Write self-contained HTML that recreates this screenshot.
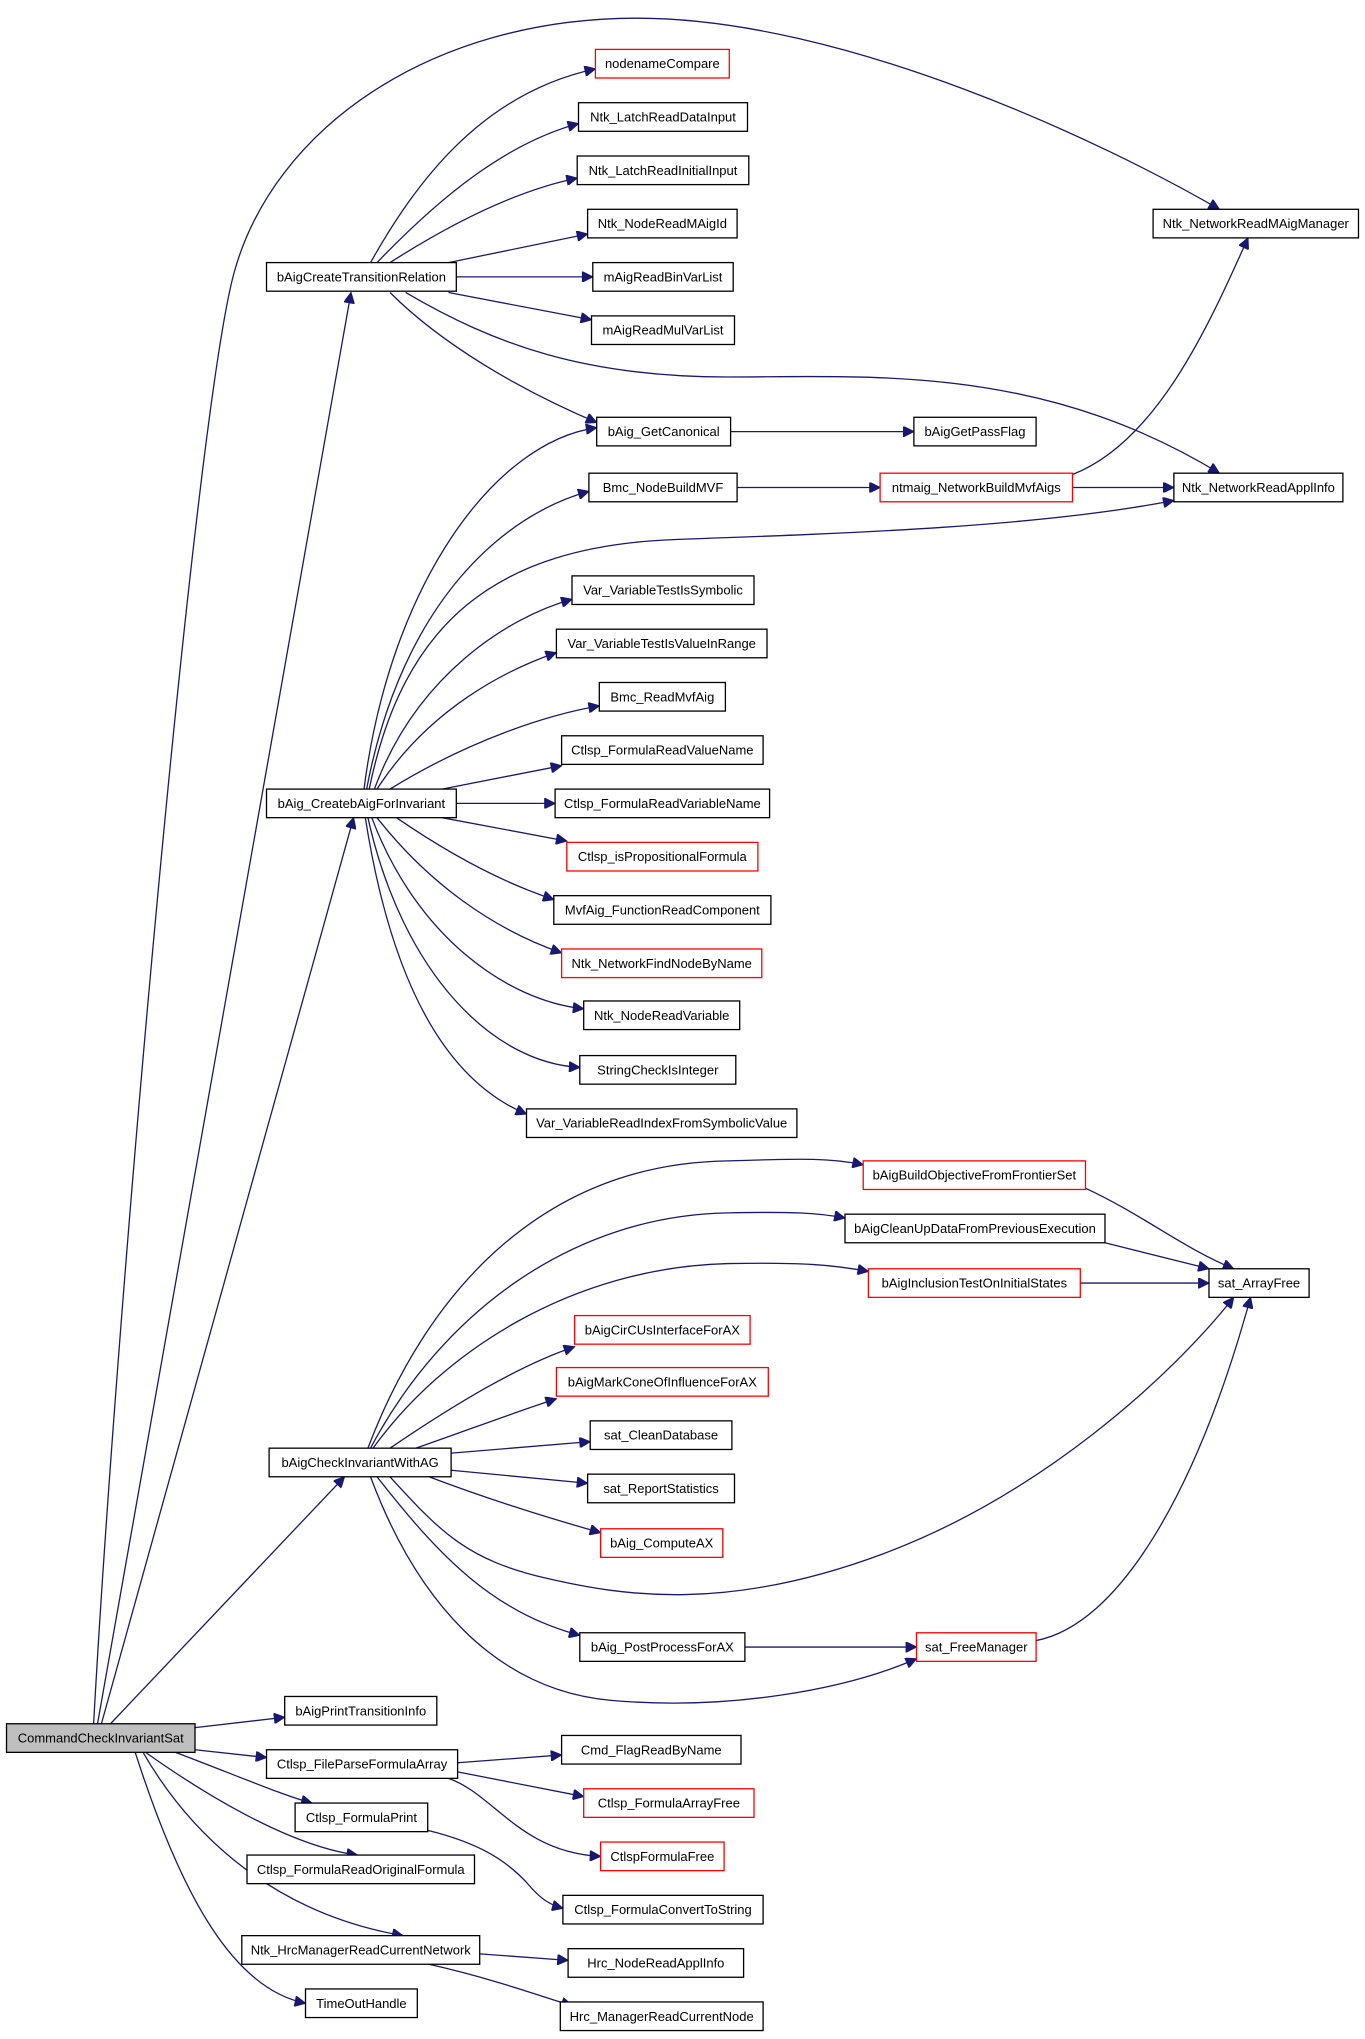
<!DOCTYPE html>
<html><head><meta charset="utf-8"><style>
html,body{margin:0;padding:0;background:#fff;}
svg{display:block;}
text{font-family:"Liberation Sans",Arial,sans-serif;font-size:10px;text-anchor:middle;dominant-baseline:central;fill:#000;}
rect{fill:#fff;stroke:#000;stroke-width:1;}
rect.r{stroke:#ff0000;}
rect.g{fill:#bfbfbf;}
path{fill:none;stroke:#191970;stroke-width:1;}
</style></head><body>
<svg width="1365" height="2039" viewBox="0 0 1050 1568.5" xmlns="http://www.w3.org/2000/svg">
<defs><marker id="a" viewBox="0 0 10 10" refX="10" refY="5" markerWidth="10" markerHeight="8" markerUnits="userSpaceOnUse" orient="auto"><path d="M0,0 L10,5 L0,10 z" style="fill:#191970;stroke:#191970"/></marker></defs>
<g marker-end="url(#a)">
<path d="M72,1326 C90,1000 150,320 180,210 S330,14 490,14 S850,110 938,161"/>
<path d="M75,1326 L270,225"/>
<path d="M78,1326 L272,629"/>
<path d="M85,1326 L265,1136"/>
<path d="M150,1329 L219,1321"/>
<path d="M150,1346 L205,1352"/>
<path d="M135,1348 C180,1365 220,1382 240,1387"/>
<path d="M112,1348 C150,1375 220,1420 275,1427"/>
<path d="M110,1348 C140,1400 200,1470 310,1489"/>
<path d="M104,1348 C140,1460 180,1530 235,1541"/>
<path d="M285,202 C320,140 370,72 458,53"/>
<path d="M290,202 C340,150 390,110 445,95"/>
<path d="M300,202 C350,170 400,146 444,137"/>
<path d="M345,202 L452,180"/>
<path d="M351,213 L456,213"/>
<path d="M345,225 L455,246"/>
<path d="M300,225 C340,265 400,300 459,325"/>
<path d="M312,225 C380,265 450,290 560,290 S800,280 938,364"/>
<path d="M280,607 C300,450 380,340 459,329"/>
<path d="M282,607 C310,460 390,395 453,378"/>
<path d="M284,607 C310,480 380,420 520,415 S800,405 903,385"/>
<path d="M288,607 C320,520 390,475 440,461"/>
<path d="M290,607 C330,545 390,515 428,502"/>
<path d="M300,607 C360,570 420,550 461,543"/>
<path d="M340,607 L432,589"/>
<path d="M351,618 L427,618"/>
<path d="M340,629 L436,647"/>
<path d="M305,629 C350,660 390,680 426,692"/>
<path d="M290,629 C330,680 380,715 432,733"/>
<path d="M286,629 C320,720 390,770 449,776"/>
<path d="M283,629 C310,750 380,818 446,821"/>
<path d="M281,629 C300,750 340,830 405,857"/>
<path d="M562,332 L703,332"/>
<path d="M567,375 L677,375"/>
<path d="M825,375 L903,375"/>
<path d="M825,365 C890,340 930,250 960,183"/>
<path d="M283,1114 C330,990 420,895 560,893 C620,891 640,891 664,896"/>
<path d="M285,1114 C340,1010 440,935 560,933 C610,932 630,933 650,937"/>
<path d="M287,1114 C340,1040 440,975 560,972 C620,971 640,973 668,978"/>
<path d="M300,1114 C350,1080 400,1050 442,1036"/>
<path d="M320,1114 C360,1100 400,1085 428,1076"/>
<path d="M345,1118 L454,1109"/>
<path d="M347,1131 L452,1141"/>
<path d="M330,1136 C380,1155 430,1170 462,1179"/>
<path d="M300,1136 C340,1180 360,1200 420,1214 S560,1240 680,1195 S900,1060 949,998"/>
<path d="M290,1136 C340,1200 380,1240 446,1258"/>
<path d="M285,1136 C320,1230 380,1300 470,1308 S650,1300 705,1276"/>
<path d="M573,1267 L705,1267"/>
<path d="M797,1262 C860,1250 920,1150 962,998"/>
<path d="M835,914 C880,935 910,960 949,976"/>
<path d="M850,956 L930,976"/>
<path d="M831,987 L930,987"/>
<path d="M352,1356 L432,1350"/>
<path d="M352,1363 L449,1382"/>
<path d="M345,1368 C380,1380 400,1425 462,1428"/>
<path d="M329,1408 C370,1418 390,1432 405,1448 C415,1460 422,1465 433,1468"/>
<path d="M369,1503 L437,1508"/>
<path d="M330,1511 C370,1520 400,1530 440,1543"/>
</g>
<rect x="5" y="1326" width="145" height="22" class="g"/><text x="77.5" y="1337">CommandCheckInvariantSat</text>
<rect x="205" y="202" width="146" height="22"/><text x="278" y="213">bAigCreateTransitionRelation</text>
<rect x="458" y="38" width="103" height="22" class="r"/><text x="509.5" y="49">nodenameCompare</text>
<rect x="445" y="79" width="130" height="22"/><text x="510" y="90">Ntk_LatchReadDataInput</text>
<rect x="444" y="120" width="132" height="22"/><text x="510" y="131">Ntk_LatchReadInitialInput</text>
<rect x="452" y="161" width="115" height="22"/><text x="509.5" y="172">Ntk_NodeReadMAigId</text>
<rect x="456" y="202" width="108" height="22"/><text x="510" y="213">mAigReadBinVarList</text>
<rect x="455" y="243" width="110" height="22"/><text x="510" y="254">mAigReadMulVarList</text>
<rect x="887" y="161" width="158" height="22"/><text x="966" y="172">Ntk_NetworkReadMAigManager</text>
<rect x="459" y="321" width="103" height="22"/><text x="510.5" y="332">bAig_GetCanonical</text>
<rect x="703" y="321" width="94" height="22"/><text x="750" y="332">bAigGetPassFlag</text>
<rect x="453" y="364" width="114" height="22"/><text x="510" y="375">Bmc_NodeBuildMVF</text>
<rect x="677" y="364" width="148" height="22" class="r"/><text x="751" y="375">ntmaig_NetworkBuildMvfAigs</text>
<rect x="903" y="364" width="130" height="22"/><text x="968" y="375">Ntk_NetworkReadApplInfo</text>
<rect x="440" y="443" width="140" height="22"/><text x="510" y="454">Var_VariableTestIsSymbolic</text>
<rect x="428" y="484" width="162" height="22"/><text x="509" y="495">Var_VariableTestIsValueInRange</text>
<rect x="461" y="525" width="97" height="22"/><text x="509.5" y="536">Bmc_ReadMvfAig</text>
<rect x="432" y="566" width="155" height="22"/><text x="509.5" y="577">Ctlsp_FormulaReadValueName</text>
<rect x="427" y="607" width="165" height="22"/><text x="509.5" y="618">Ctlsp_FormulaReadVariableName</text>
<rect x="205" y="607" width="146" height="22"/><text x="278" y="618">bAig_CreatebAigForInvariant</text>
<rect x="436" y="648" width="147" height="22" class="r"/><text x="509.5" y="659">Ctlsp_isPropositionalFormula</text>
<rect x="426" y="689" width="167" height="22"/><text x="509.5" y="700">MvfAig_FunctionReadComponent</text>
<rect x="432" y="730" width="154" height="22" class="r"/><text x="509" y="741">Ntk_NetworkFindNodeByName</text>
<rect x="449" y="770" width="120" height="22"/><text x="509" y="781">Ntk_NodeReadVariable</text>
<rect x="446" y="812" width="120" height="22"/><text x="506" y="823">StringCheckIsInteger</text>
<rect x="405" y="853" width="208" height="22"/><text x="509" y="864">Var_VariableReadIndexFromSymbolicValue</text>
<rect x="664" y="893" width="171" height="22" class="r"/><text x="749.5" y="904">bAigBuildObjectiveFromFrontierSet</text>
<rect x="650" y="934" width="200" height="22"/><text x="750" y="945">bAigCleanUpDataFromPreviousExecution</text>
<rect x="930" y="976" width="77" height="22"/><text x="968.5" y="987">sat_ArrayFree</text>
<rect x="668" y="976" width="163" height="22" class="r"/><text x="749.5" y="987">bAigInclusionTestOnInitialStates</text>
<rect x="442" y="1012" width="135" height="22" class="r"/><text x="509.5" y="1023">bAigCirCUsInterfaceForAX</text>
<rect x="428" y="1052" width="163" height="22" class="r"/><text x="509.5" y="1063">bAigMarkConeOfInfluenceForAX</text>
<rect x="454" y="1093" width="109" height="22"/><text x="508.5" y="1104">sat_CleanDatabase</text>
<rect x="207" y="1114" width="140" height="22"/><text x="277" y="1125">bAigCheckInvariantWithAG</text>
<rect x="452" y="1134" width="113" height="22"/><text x="508.5" y="1145">sat_ReportStatistics</text>
<rect x="462" y="1176" width="94" height="22" class="r"/><text x="509" y="1187">bAig_ComputeAX</text>
<rect x="446" y="1256" width="127" height="22"/><text x="509.5" y="1267">bAig_PostProcessForAX</text>
<rect x="705" y="1256" width="92" height="22" class="r"/><text x="751" y="1267">sat_FreeManager</text>
<rect x="219" y="1305" width="117" height="22"/><text x="277.5" y="1316">bAigPrintTransitionInfo</text>
<rect x="205" y="1346" width="147" height="22"/><text x="278.5" y="1357">Ctlsp_FileParseFormulaArray</text>
<rect x="432" y="1335" width="138" height="22"/><text x="501" y="1346">Cmd_FlagReadByName</text>
<rect x="449" y="1376" width="131" height="22" class="r"/><text x="514.5" y="1387">Ctlsp_FormulaArrayFree</text>
<rect x="227" y="1387" width="102" height="22"/><text x="278" y="1398">Ctlsp_FormulaPrint</text>
<rect x="462" y="1417" width="95" height="22" class="r"/><text x="509.5" y="1428">CtlspFormulaFree</text>
<rect x="190" y="1427" width="175" height="22"/><text x="277.5" y="1438">Ctlsp_FormulaReadOriginalFormula</text>
<rect x="433" y="1458" width="154" height="22"/><text x="510" y="1469">Ctlsp_FormulaConvertToString</text>
<rect x="186" y="1489" width="183" height="22"/><text x="277.5" y="1500">Ntk_HrcManagerReadCurrentNetwork</text>
<rect x="437" y="1499" width="135" height="22"/><text x="504.5" y="1510">Hrc_NodeReadApplInfo</text>
<rect x="235" y="1530" width="86" height="22"/><text x="278" y="1541">TimeOutHandle</text>
<rect x="431" y="1540" width="156" height="22"/><text x="509" y="1551">Hrc_ManagerReadCurrentNode</text>
</svg>
</body></html>
